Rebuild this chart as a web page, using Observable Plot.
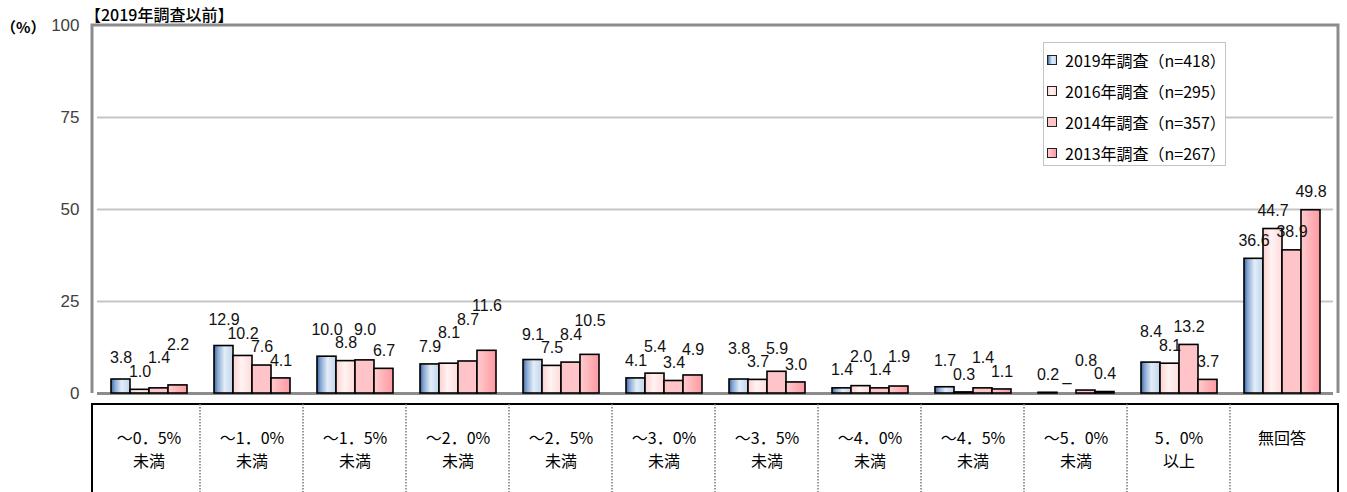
<!DOCTYPE html>
<html>
<head>
<meta charset="utf-8">
<script src="https://cdn.jsdelivr.net/npm/d3@7"></script>
<script src="https://cdn.jsdelivr.net/npm/@observablehq/plot@0.6"></script>
<style>
  html, body { margin: 0; padding: 0; background: #fff; }
  #wrap { position: relative; width: 1347px; height: 492px; overflow: hidden; font-family: "Noto Sans CJK JP", sans-serif; }
  #title { position: absolute; left: 85px; top: 2px; font-size: 16px; color: #000; font-weight: 500; }
  #unit { position: absolute; left: 1px; top: 16px; font-size: 15px; color: #000; font-weight: 700; }
  #legend { position: absolute; left: 1043px; top: 42px; width: 183px; height: 124px; border: 1px solid #c4c4c4; background: #fff; box-sizing: border-box; padding: 1px 0 0 3px; }
  .li { display: flex; align-items: center; height: 31px; font-size: 16px; color: #000; white-space: nowrap; }
  .sw { width: 8px; height: 8px; border: 1px solid #222; margin-right: 8px; flex: none; }
</style>
</head>
<body>
<div id="wrap">
  <div id="chart"></div>
  <div id="title">【2019年調査以前】</div>
  <div id="unit">（%）</div>
  <div id="legend"></div>
</div>
<script>
// ---- data ----
const categories = ["～0．5%\n未満", "～1．0%\n未満", "～1．5%\n未満", "～2．0%\n未満", "～2．5%\n未満", "～3．0%\n未満",
  "～3．5%\n未満", "～4．0%\n未満", "～4．5%\n未満", "～5．0%\n未満", "5．0%\n以上", "無回答"];
const seriesKeys = ["2019", "2016", "2014", "2013"];
const seriesLabels = ["2019年調査（n=418）", "2016年調査（n=295）", "2014年調査（n=357）", "2013年調査（n=267）"];
const v2019 = [3.8, 12.9, 10.0, 7.9, 9.1, 4.1, 3.8, 1.4, 1.7, 0.2, 8.4, 36.6];
const v2016 = [1.0, 10.2, 8.8, 8.1, 7.5, 5.4, 3.7, 2.0, 0.3, null, 8.1, 44.7];
const v2014 = [1.4, 7.6, 9.0, 8.7, 8.4, 3.4, 5.9, 1.4, 1.4, 0.8, 13.2, 38.9];
const v2013 = [2.2, 4.1, 6.7, 11.6, 10.5, 4.9, 3.0, 1.9, 1.1, 0.4, 3.7, 49.8];
const yTicks = [0, 25, 50, 75, 100];
const missingLabel = "_";

// ---- layout ----
const W = 1347, H = 492, mL = 92, mR = 9, mT = 25, mB = 99;
const innerH = H - mT - mB;
const unitPx = innerH / 100;
const gradIds = ["g2019", "g2016", "g2014", "g2013"];

const valueSets = [v2019, v2016, v2014, v2013];
const rows = [];
categories.forEach((c, i) => {
  seriesKeys.forEach((s, j) => {
    rows.push({cat: c, ci: i, series: s, sj: j, value: valueSets[j][i]});
  });
});

// label placement: avoid overlap between adjacent bars' labels (in data units)
const baseOff = 18 / unitPx, sep = 13.5 / unitPx;
categories.forEach((c, i) => {
  const grp = rows.filter(r => r.ci === i);
  grp.forEach(r => { r.ly = (r.value ?? 0) + baseOff; r.label = r.value == null ? missingLabel : r.value.toFixed(1); });
  const order = grp.filter(r => r.value != null).sort((a, b) => a.value - b.value);
  const placed = [];
  for (const r of order) {
    for (let iter = 0; iter < 10; iter++) {
      let changed = false;
      for (const p of placed) {
        if (Math.abs(p.sj - r.sj) !== 1) continue;
        const tooClose = Math.abs(p.ly - r.ly) < sep - 1e-6;
        const belowLower = r.value > p.value && r.ly < p.ly + sep - 1e-6 && r.ly > p.ly - 2 * sep;
        if (tooClose || belowLower) { r.ly = p.ly + sep; changed = true; }
      }
      if (!changed) break;
    }
    placed.push(r);
  }
});

const barMarks = seriesKeys.map((s, j) =>
  Plot.barY(rows.filter(r => r.series === s && r.value != null), {
    fx: "cat", x: "series", y: "value", fill: `url(#${gradIds[j]})`, stroke: "#000", strokeWidth: 1.6
  })
);

const plot = Plot.plot({
  width: W, height: H,
  marginLeft: mL, marginRight: mR, marginTop: mT, marginBottom: mB,
  style: {background: "#fff", fontFamily: "'Liberation Sans', Arial, sans-serif", fontSize: "16px", color: "#404040"},
  fx: {domain: categories, padding: 0, axis: null, label: null},
  x: {domain: seriesKeys, paddingInner: 0, paddingOuter: 0.7, axis: null},
  y: {domain: [0, 100], axis: null},
  marks: [
    Plot.ruleY([25, 50, 75], {stroke: "#c6c6c6", strokeWidth: 2}),
    Plot.ruleY([0], {stroke: "#8c8c8c", strokeWidth: 3}),
    // y tick labels, drawn once in the first facet, left of the frame
    Plot.text(yTicks, {fx: () => categories[0], y: d => d, text: d => String(d), frameAnchor: "left",
      textAnchor: "end", dx: -18, fontSize: 17, fill: "#404040", fontFamily: "'Liberation Sans', Arial, sans-serif"}),
    ...barMarks,
    Plot.text(rows, {fx: "cat", x: "series", y: "ly", text: "label", fontSize: 16, fill: "#111",
      fontFamily: "'Liberation Sans', Arial, sans-serif"}),
    Plot.text(categories, {fx: d => d, text: d => d, frameAnchor: "bottom", lineAnchor: "top", dy: 35,
      lineHeight: 1.4, fontSize: 16, fill: "#000", fontFamily: "'Noto Sans CJK JP', sans-serif"})
  ]
});
document.getElementById("chart").appendChild(plot);

const svg = d3.select(plot);

// gradients
const defs = svg.insert("defs", ":first-child");
const gradStops = [
  [["0%", "#3a66a3"], ["20%", "#88a9d3"], ["55%", "#e3edf8"], ["100%", "#c0d4ed"]],
  [["0%", "#ffd0d0"], ["45%", "#fff3f3"], ["100%", "#ffdada"]],
  [["0%", "#ffc4c8"], ["100%", "#ffc4c8"]],
  [["0%", "#ffcdd0"], ["50%", "#ffb2b7"], ["100%", "#ff9aa3"]]
];
gradIds.forEach((id, j) => {
  const g = defs.append("linearGradient").attr("id", id).attr("x1", "0").attr("x2", "1").attr("y1", "0").attr("y2", "0");
  gradStops[j].forEach(([o, c]) => g.append("stop").attr("offset", o).attr("stop-color", c));
});

// frame + table using the fx scale
const fx = plot.scale("fx");
const x0 = mL, x1 = W - mR, yTop = mT, yBot = H - mB;
const g = svg.append("g");
g.append("path").attr("d", `M${x0},${yBot}V${yTop}H${x1}V${yBot}`).attr("fill", "none").attr("stroke", "#8c8c8c").attr("stroke-width", 3);
const tTop = yBot + 11;
g.append("path").attr("d", `M${x0},${H + 2}V${tTop}H${x1}V${H + 2}`).attr("fill", "none").attr("stroke", "#000").attr("stroke-width", 2);
categories.slice(1).forEach((c) => {
  const xx = fx.apply(c);
  g.append("line").attr("x1", xx).attr("x2", xx).attr("y1", tTop).attr("y2", H)
    .attr("stroke", "#777").attr("stroke-width", 1.5).attr("stroke-dasharray", "1.5,1.5");
});

// legend
const legendFills = gradIds.map((id, j) => `linear-gradient(to right, ${gradStops[j].map(([o, c]) => c + " " + o).join(", ")})`);
const lg = document.getElementById("legend");
seriesLabels.forEach((l, j) => {
  const d = document.createElement("div");
  d.className = "li";
  d.innerHTML = `<span class="sw" style="background:${legendFills[j]}"></span><span>${l}</span>`;
  lg.appendChild(d);
});
</script>
</body>
</html>
